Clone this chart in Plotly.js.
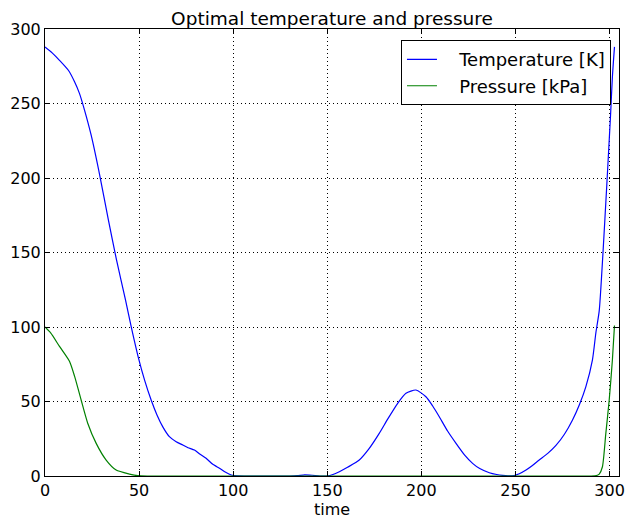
<!DOCTYPE html>
<html>
<head>
<meta charset="utf-8">
<script src="https://cdn.plot.ly/plotly-3.0.1.min.js"></script>
<style>html,body{margin:0;padding:0;background:#fff}#chart{width:628px;height:520px}</style>
</head>
<body>
<div id="chart"></div>
<script>
const titleText = "Optimal temperature and pressure";
const xLabel = "time";
const tempName = "Temperature [K]";
const presName = "Pressure [kPa]";

const tempTime = [0, 3.8, 7.7, 12.6, 15.7, 18.3, 21, 24.5, 28.9, 33.7, 38, 42.8, 46, 49.5, 53, 56.4, 59.5, 62.6, 66.1, 69.7, 73.2, 76, 79.4, 82, 85.6, 89, 92.7, 96, 99, 102, 110, 120, 130, 134, 138, 142, 146, 150, 153, 156.4, 161, 167, 172, 177.6, 182, 187.4, 191.8, 197.1, 202.4, 206, 209.5, 214, 218.4, 223, 227.2, 231, 236.1, 240, 243.1, 246, 249.3, 252, 255.6, 259, 262.6, 267, 271.5, 276, 280.3, 284, 287.4, 290.9, 292.7, 294.5, 296.5, 298.5, 300.5, 301.5, 302.6];
const tempValue = [288, 284, 279, 272, 264.6, 256.8, 245.6, 228.9, 203, 171.8, 145, 118, 99, 80, 64, 51, 41, 33, 26.4, 23, 20.8, 19, 17.4, 15, 11.9, 8, 5.2, 2.5, 0.7, 0.1, 0, 0, 0, 0.2, 0.8, 0.5, 0, 0, 1, 2.9, 6, 10.7, 18, 28.6, 38, 48.8, 55.5, 57.7, 53.2, 47, 39.8, 30, 21.9, 14, 8.5, 5, 2.2, 1, 0.4, 0.1, 0.3, 1.5, 4, 7, 10.7, 15, 20.5, 28, 37.6, 48, 60, 78, 96, 111, 150, 195, 242, 268, 288];

const presTime = [0, 3, 7.7, 13, 15.7, 19.2, 22.7, 27.2, 32.5, 37.8, 44.9, 49.3, 55, 100, 200, 290, 293, 294.5, 296.2, 298, 299.8, 301.5, 302.6];
const presValue = [100, 96, 87, 77, 67, 51, 35.4, 21.9, 10.7, 4, 1.3, 0.2, 0, 0, 0, 0, 0.3, 1.3, 6.2, 28.6, 51, 78, 101];

const xTicks = [0, 50, 100, 150, 200, 250, 300];
const yTicks = [0, 50, 100, 150, 200, 250, 300];

const font = "DejaVu Sans, sans-serif";

const traces = [
  {x: tempTime, y: tempValue, name: "\u00A0\u00A0\u00A0" + tempName, mode: "lines", line: {color: "#0000ff", width: 1.2, shape: "spline", smoothing: 0.6}},
  {x: presTime, y: presValue, name: "\u00A0\u00A0\u00A0" + presName, mode: "lines", line: {color: "#008000", width: 1.2, shape: "spline", smoothing: 0.6}}
];

const axisCommon = {
  showline: true, linecolor: "#000", linewidth: 1, mirror: "ticks",
  ticks: "inside", ticklen: 5, tickcolor: "#000", tickwidth: 1,
  showgrid: true, gridcolor: "#000", gridwidth: 1, griddash: "1px,3px",
  zeroline: false, tickfont: {family: font, size: 16, color: "#000"}
};

const layout = {
  width: 628, height: 520,
  margin: {l: 45, r: 9, t: 29, b: 44},
  paper_bgcolor: "#fff", plot_bgcolor: "#fff",
  title: {text: titleText, font: {family: font, size: 18.5, color: "#000"}, x: 0.5, xref: "paper", y: 0.965, yanchor: "middle"},
  xaxis: Object.assign({}, axisCommon, {range: [0, 305], tickvals: xTicks, ticktext: xTicks.map(String),
    title: {text: xLabel, font: {family: font, size: 16, color: "#000"}, standoff: 0}}),
  yaxis: Object.assign({}, axisCommon, {range: [0, 300], tickvals: yTicks, ticktext: yTicks.map(String)}),
  showlegend: true,
  legend: {x: 0.986, y: 0.975, xanchor: "right", yanchor: "top", bgcolor: "#fff", bordercolor: "#000", borderwidth: 1,
    font: {family: font, size: 18, color: "#000"}}
};

Plotly.newPlot("chart", traces, layout, {displayModeBar: false, staticPlot: true});
</script>
</body>
</html>
